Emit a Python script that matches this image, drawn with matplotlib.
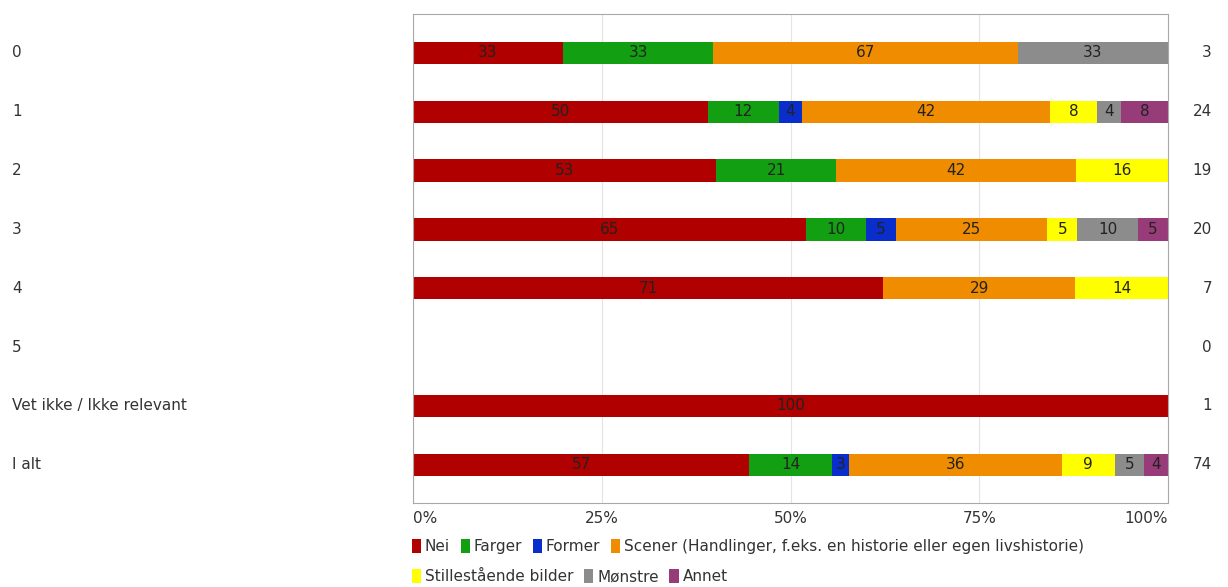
import numpy as np
import matplotlib.pyplot as plt

# rader og prosentverdier per svaralternativ
rader = ['0', '1', '2', '3', '4', '5', 'Vet ikke / Ikke relevant', 'I alt']
antall = [3, 24, 19, 20, 7, 0, 1, 74]

serier = ['Nei', 'Farger', 'Former',
          'Scener (Handlinger, f.eks. en historie eller egen livshistorie)',
          'Stillestående bilder', 'Mønstre', 'Annet']
nei = [33, 50, 53, 65, 71, 0, 100, 57]
farger = [33, 12, 21, 10, 0, 0, 0, 14]
former = [0, 4, 0, 5, 0, 0, 0, 3]
scener = [67, 42, 42, 25, 29, 0, 0, 36]
stille = [0, 8, 16, 5, 14, 0, 0, 9]
monstre = [33, 4, 0, 10, 0, 0, 0, 5]
annet = [0, 8, 0, 5, 0, 0, 0, 4]
farger_hex = ['#b00000', '#12a012', '#0a2ecc', '#f08c00', '#ffff00', '#8c8c8c', '#973c78']

verdier = np.array([nei, farger, former, scener, stille, monstre, annet], dtype=float)
summer = verdier.sum(axis=0)
andel = np.divide(verdier, summer, out=np.zeros_like(verdier), where=summer > 0) * 100

fs = 11
fig = plt.figure(figsize=(12.28, 5.87), dpi=100)
ax = fig.add_axes([413 / 1228, 1 - 503 / 587, 755 / 1228, 489 / 587])

y = np.arange(len(rader))
venstre = np.zeros(len(rader))
handles = []
for i, navn in enumerate(serier):
    b = ax.barh(y, andel[i], left=venstre, height=0.38, color=farger_hex[i], label=navn)
    tekst = ['%d' % v if v > 0 else '' for v in verdier[i]]
    ax.bar_label(b, labels=tekst, label_type='center', fontsize=fs, color='#222222')
    venstre += andel[i]
    handles.append(b)

ax.set_xlim(0, 100)
ax.set_ylim(len(rader) - 1 + 0.65, -0.66)
ax.set_yticks([])
ax.set_xticks([0, 25, 50, 75, 100])
ax.set_xticklabels(['0%', '25%', '50%', '75%', '100%'], fontsize=fs, color='#333333')
ax.tick_params(axis='x', length=0, pad=6)
lbls = ax.get_xticklabels()
lbls[0].set_ha('left')
lbls[-1].set_ha('right')
ax.grid(axis='x', color='#e4e4e4', lw=0.8)
ax.set_axisbelow(True)
for s in ax.spines.values():
    s.set_color('#a8a8a8')
    s.set_linewidth(0.8)

# radnavn til venstre og antall svar til høyre
for yi, navn, n in zip(y, rader, antall):
    ax.annotate(navn, (0, yi), xycoords=('figure fraction', 'data'),
                xytext=(12, 0), textcoords='offset pixels',
                va='center', ha='left', fontsize=fs, color='#333333')
    ax.annotate(str(n), (1212 / 1228, yi), xycoords=('figure fraction', 'data'),
                va='center', ha='right', fontsize=fs, color='#333333')

leg_kw = dict(frameon=False, fontsize=fs, handlelength=0.6, handleheight=1.0,
              handletextpad=0.25, columnspacing=0.7, borderpad=0, borderaxespad=0,
              labelcolor='#333333', loc='upper left')
fig.legend(handles[:4], serier[:4], ncol=4,
           bbox_to_anchor=(412 / 1228, 1 - 539 / 587), **leg_kw)
fig.legend(handles[4:], serier[4:], ncol=3,
           bbox_to_anchor=(412 / 1228, 1 - 569 / 587), **leg_kw)

fig.savefig('out.png', dpi=100)
